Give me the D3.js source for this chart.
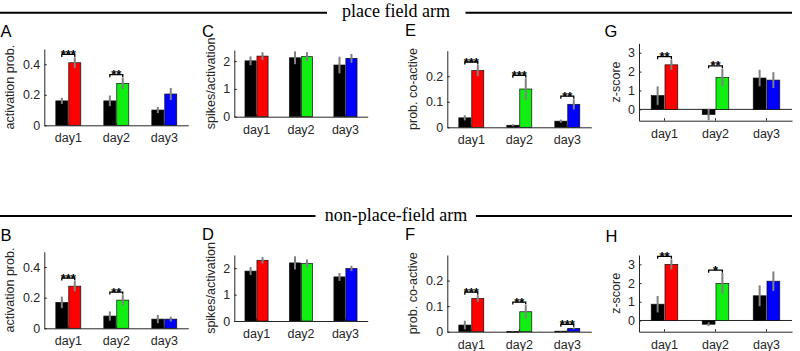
<!DOCTYPE html>
<html><head><meta charset="utf-8">
<script src="https://cdn.jsdelivr.net/npm/d3@7"></script>
<style>
body{margin:0;background:#fff;}
svg{display:block;font-family:"Liberation Sans",Arial,sans-serif;}
</style></head>
<body><svg id="chart" width="800" height="351"></svg>
<script>
// ---------- data ----------
const days = ["day1", "day2", "day3"];
const pairColors = ["#ff0000", "#11ee11", "#0000ff"];
const sectionTitles = ["place field arm", "non-place-field arm"];

// A: place field arm, activation prob.
const A_ctrl = [0.16, 0.16, 0.10];
const A_ctrlErr = [0.02, 0.035, 0.02];
const A_exp = [0.41, 0.275, 0.205];
const A_expErr = [0.035, 0.037, 0.04];
const A_sig = ["***", "**", ""];
// C: place field arm, spikes/activation
const C_ctrl = [2.01, 2.12, 1.86];
const C_ctrlErr = [0.16, 0.23, 0.30];
const C_exp = [2.18, 2.16, 2.10];
const C_expErr = [0.14, 0.16, 0.16];
const C_sig = ["", "", ""];
// E: place field arm, prob. co-active
const E_ctrl = [0.037, 0.008, 0.024];
const E_ctrlErr = [0.01, 0.004, 0.006];
const E_exp = [0.222, 0.15, 0.09];
const E_expErr = [0.022, 0.042, 0.02];
const E_sig = ["***", "***", "**"];
// G: place field arm, z-score
const G_ctrl = [0.73, -0.27, 1.66];
const G_ctrlErr = [0.49, 0.30, 0.44];
const G_exp = [2.36, 1.69, 1.55];
const G_expErr = [0.27, 0.46, 0.42];
const G_sig = ["**", "**", ""];
// B: non-place-field arm, activation prob.
const B_ctrl = [0.169, 0.08, 0.06];
const B_ctrlErr = [0.038, 0.03, 0.027];
const B_exp = [0.275, 0.184, 0.06];
const B_expErr = [0.033, 0.033, 0.016];
const B_sig = ["***", "**", ""];
// D: non-place-field arm, spikes/activation
const D_ctrl = [1.89, 2.20, 1.67];
const D_ctrlErr = [0.15, 0.25, 0.15];
const D_exp = [2.30, 2.18, 1.99];
const D_expErr = [0.12, 0.15, 0.10];
const D_sig = ["", "", ""];
// F: non-place-field arm, prob. co-active
const F_ctrl = [0.026, 0.001, 0.002];
const F_ctrlErr = [0.017, 0.001, 0.001];
const F_exp = [0.13, 0.078, 0.013];
const F_expErr = [0.013, 0.026, 0.004];
const F_sig = ["***", "**", "***"];
// H: non-place-field arm, z-score
const H_ctrl = [0.87, -0.20, 1.32];
const H_ctrlErr = [0.44, 0.10, 0.56];
const H_exp = [3.0, 1.98, 2.10];
const H_expErr = [0.27, 0.55, 0.52];
const H_sig = ["**", "*", ""];

// tick values / labels
const probTicks = [0, 0.2, 0.4];
const spikeTicks = [0, 1, 2];
const coTicks = [0, 0.1, 0.2];
const zTicks = [0, 1, 2, 3];
const fmtTick = v => v === 0 ? "0" : String(v);

// ---------- layout ----------
const panels = [
  {letter:"A", ylabel:"activation prob.", ctrl:A_ctrl, ctrlErr:A_ctrlErr, exp:A_exp, expErr:A_expErr, sig:A_sig, domain:[0,0.5], ticks:probTicks,
   x0:44.3, x1:188.3, yTop:49, yBot:125.3, lx:0.5, ly:37, yl:10},
  {letter:"C", ylabel:"spikes/activation", ctrl:C_ctrl, ctrlErr:C_ctrlErr, exp:C_exp, expErr:C_expErr, sig:C_sig, domain:[0,2.4], ticks:spikeTicks,
   x0:234.3, x1:367.7, yTop:50, yBot:116.7, lx:202, ly:37, yl:211},
  {letter:"E", ylabel:"prob. co-active", ctrl:E_ctrl, ctrlErr:E_ctrlErr, exp:E_exp, expErr:E_expErr, sig:E_sig, domain:[0,0.3], ticks:coTicks,
   x0:447.3, x1:591.3, yTop:50.7, yBot:127.3, lx:405, ly:36, yl:412.5},
  {letter:"G", ylabel:"z-score", ctrl:G_ctrl, ctrlErr:G_ctrlErr, exp:G_exp, expErr:G_expErr, sig:G_sig, domain:[-0.6,3.5], ticks:zTicks,
   x0:639, x1:792, yTop:43.3, yBot:120.7, lx:604.5, ly:37, yl:616},
  {letter:"B", ylabel:"activation prob.", ctrl:B_ctrl, ctrlErr:B_ctrlErr, exp:B_exp, expErr:B_expErr, sig:B_sig, domain:[0,0.5], ticks:probTicks,
   x0:44.3, x1:188.3, yTop:251.7, yBot:328.3, lx:0.5, ly:241, yl:10},
  {letter:"D", ylabel:"spikes/activation", ctrl:D_ctrl, ctrlErr:D_ctrlErr, exp:D_exp, expErr:D_expErr, sig:D_sig, domain:[0,2.5], ticks:spikeTicks,
   x0:234.3, x1:367.7, yTop:255, yBot:321, lx:202, ly:240, yl:211},
  {letter:"F", ylabel:"prob. co-active", ctrl:F_ctrl, ctrlErr:F_ctrlErr, exp:F_exp, expErr:F_expErr, sig:F_sig, domain:[0,0.3], ticks:coTicks,
   x0:447.3, x1:591.3, yTop:255, yBot:331.7, lx:405, ly:240, yl:412.5},
  {letter:"H", ylabel:"z-score", ctrl:H_ctrl, ctrlErr:H_ctrlErr, exp:H_exp, expErr:H_expErr, sig:H_sig, domain:[-0.6,3.5], ticks:zTicks,
   x0:639, x1:792, yTop:255, yBot:331.7, lx:605.5, ly:242, yl:616}
];

const svg = d3.select("#chart");
const ink = "#262626";
const tickFont = "12.5px";

// section headers
const headers = [
  {title: sectionTitles[0], y: 12.7, lineL: [0, 327], lineR: [465.5, 792], tx: 396},
  {title: sectionTitles[1], y: 216, lineL: [0, 315.5], lineR: [476, 792], tx: 396}
];
headers.forEach(h => {
  svg.append("line").attr("x1", h.lineL[0]).attr("x2", h.lineL[1]).attr("y1", h.y).attr("y2", h.y)
    .attr("stroke", "#000").attr("stroke-width", 2);
  svg.append("line").attr("x1", h.lineR[0]).attr("x2", h.lineR[1]).attr("y1", h.y).attr("y2", h.y)
    .attr("stroke", "#000").attr("stroke-width", 2);
  svg.append("text").attr("x", h.tx).attr("y", h.y + 4.5).attr("text-anchor", "middle")
    .style("font-family", "'Liberation Serif','Times New Roman',serif").style("font-size", "18px")
    .attr("fill", "#000").text(h.title);
});

panels.forEach(p => {
  const g = svg.append("g");
  const x = d3.scaleBand().domain(days).range([p.x0, p.x1]);
  const bw = x.bandwidth();
  const sub = d3.scaleBand().domain(["ctrl", "exp"]).range([bw * 0.24, bw * 0.76]).paddingInner(0.07);
  const y = d3.scaleLinear().domain(p.domain).range([p.yBot, p.yTop]);

  const rows = days.map((d, i) => ({day: d, i,
    items: [
      {key: "ctrl", v: p.ctrl[i], e: p.ctrlErr[i], fill: "#000000"},
      {key: "exp", v: p.exp[i], e: p.expErr[i], fill: pairColors[i]}
    ], sig: p.sig[i]}));

  // zero line for axes with negative domain
  if (p.domain[0] < 0) {
    g.append("line").attr("x1", p.x0).attr("x2", p.x1).attr("y1", y(0)).attr("y2", y(0))
      .attr("stroke", ink).attr("stroke-width", 1);
  }

  // bars
  rows.forEach(r => {
    r.items.forEach(it => {
      const bx = x(r.day) + sub(it.key);
      const y0 = y(0), yv = y(it.v);
      g.append("rect").attr("x", bx).attr("width", sub.bandwidth())
        .attr("y", Math.min(y0, yv)).attr("height", Math.max(0.8, Math.abs(y0 - yv)))
        .attr("fill", it.fill).attr("stroke", "#111").attr("stroke-width", 0.7);
    });
  });
  // error bars
  rows.forEach(r => {
    r.items.forEach(it => {
      const cx = x(r.day) + sub(it.key) + sub.bandwidth() / 2;
      g.append("line").attr("x1", cx).attr("x2", cx).attr("y1", y(it.v - it.e)).attr("y2", y(it.v + it.e))
        .attr("stroke", "#808080").attr("stroke-width", 2);
    });
  });
  // significance brackets
  rows.forEach(r => {
    if (!r.sig) return;
    const c1 = x(r.day) + sub("ctrl") + sub.bandwidth() / 2;
    const c2 = x(r.day) + sub("exp") + sub.bandwidth() / 2;
    const top = Math.min(...r.items.map(it => y(it.v + it.e)));
    const by = top - 3;
    g.append("path").attr("d", `M${c1},${by + 2.5}V${by}H${c2}V${by + 2.5}`)
      .attr("fill", "none").attr("stroke", "#000").attr("stroke-width", 1.3);
    g.append("text").attr("x", (c1 + c2) / 2).attr("y", by + 4.6).attr("text-anchor", "middle")
      .style("font-size", "13px").style("font-weight", "bold")
      .style("font-family", "'Liberation Sans',Arial,sans-serif").attr("fill", "#000").text(r.sig);
  });

  // axes
  const xAxis = d3.axisBottom(x).tickSizeInner(-2.5).tickSizeOuter(0).tickPadding(8);
  const gx = g.append("g").attr("transform", `translate(0,${p.yBot})`).call(xAxis);
  const yAxis = d3.axisLeft(y).tickValues(p.ticks).tickFormat(fmtTick).tickSizeInner(-2.5).tickSizeOuter(0).tickPadding(4);
  const gy = g.append("g").attr("transform", `translate(${p.x0},0)`).call(yAxis);
  [gx, gy].forEach(ax => {
    ax.select(".domain").attr("stroke", ink);
    ax.selectAll(".tick line").attr("stroke", ink);
    ax.selectAll("text").style("font-size", tickFont).style("font-family", "'Liberation Sans',Arial,sans-serif").attr("fill", ink);
  });

  // y label
  g.append("text").attr("transform", `translate(${p.yl},${(p.yTop + p.yBot) / 2}) rotate(-90)`)
    .attr("text-anchor", "middle").attr("dy", "0.35em")
    .style("font-size", tickFont).attr("fill", ink).text(p.ylabel);
  // panel letter
  g.append("text").attr("x", p.lx).attr("y", p.ly)
    .style("font-size", "16.5px").attr("fill", "#000").text(p.letter);
});
</script></body></html>
